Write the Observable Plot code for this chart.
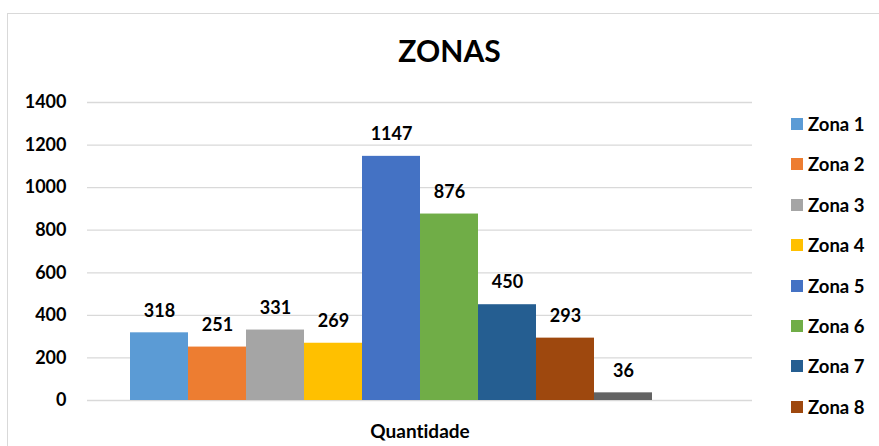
<!DOCTYPE html>
<html>
<head>
<meta charset="utf-8">
<script src="https://cdn.jsdelivr.net/npm/d3@7"></script>
<script src="https://cdn.jsdelivr.net/npm/@observablehq/plot@0.6"></script>
<style>
  html, body { margin: 0; padding: 0; background: #fff; }
  #wrap { position: relative; width: 879px; height: 446px; overflow: hidden; font-family: Lato, "Open Sans", sans-serif; font-variant-ligatures: none; }
  #wrap svg text { font-variant-ligatures: none; }
  #border { position: absolute; left: 7px; top: 13px; width: 2000px; height: 2000px; border-left: 1px solid #d9d9d9; border-top: 1px solid #d9d9d9; }
  #chart { position: absolute; left: 0; top: 0; }
  #legend { position: absolute; left: 0; top: 0; width: 879px; height: 432px; overflow: hidden; pointer-events: none; }
  .item { position: absolute; left: 791px; height: 20px; display: flex; align-items: center; font-weight: 700; font-size: 18.5px; color: #000; white-space: nowrap; }
  .sw { width: 12px; height: 12px; margin-right: 5px; flex: none; }
</style>
</head>
<body>
<div id="wrap">
  <div id="border"></div>
  <div id="chart"></div>
  <div id="legend"></div>
</div>
<script>
const title = "ZONAS";
const xLabel = "Quantidade";
const zonas = ["Zona 1", "Zona 2", "Zona 3", "Zona 4", "Zona 5", "Zona 6", "Zona 7", "Zona 8", "Zona 9"];
const valores = [318, 251, 331, 269, 1147, 876, 450, 293, 36];
const cores = ["#5B9BD5", "#ED7D31", "#A5A5A5", "#FFC000", "#4472C4", "#70AD47", "#255E91", "#9E480E", "#636363"];
const yTicks = [0, 200, 400, 600, 800, 1000, 1200, 1400];

const data = zonas.map((z, i) => ({zona: z, valor: valores[i]}));

const chart = Plot.plot({
  width: 879,
  height: 446,
  marginLeft: 87,
  marginRight: 127,
  marginTop: 102,
  marginBottom: 46,
  style: {fontFamily: "Lato, 'Open Sans', sans-serif", background: "transparent"},
  x: {type: "band", domain: zonas, range: [130, 652], padding: 0, axis: null},
  y: {domain: [0, 1400], ticks: yTicks, label: null},
  color: {domain: zonas, range: cores},
  marks: [
    Plot.gridY(yTicks, {stroke: "#d9d9d9", strokeOpacity: 1, strokeWidth: 1.3}),
    Plot.axisY(yTicks, {tickSize: 0, tickPadding: 21, fontSize: 18, fontWeight: 700, fill: "#000", label: null, tickFormat: d => String(d)}),
    Plot.barY(data, {x: "zona", y: "valor", fill: "zona", inset: 0}),
    Plot.text(data, {x: "zona", y: "valor", text: d => String(d.valor), dy: -22, fontSize: 18, fontWeight: 700, fill: "#000", lineAnchor: "middle"}),
    Plot.text([title], {frameAnchor: "top", dx: 29.5, dy: -50, fontSize: 30, fontWeight: 700, fill: "#000", lineAnchor: "middle"}),
    Plot.text([xLabel], {frameAnchor: "bottom", dy: 31, fontSize: 19, fontWeight: 700, fill: "#000", lineAnchor: "middle"})
  ]
});
document.getElementById("chart").appendChild(chart);

const legend = document.getElementById("legend");
const legendTop = 124, legendStep = 40.4, legendBottom = 432;
zonas.forEach((z, i) => {
  const cy = legendTop + i * legendStep;
  if (cy + 10 > legendBottom) return; // entries beyond the chart area are cut off, as in the original
  const item = document.createElement("div");
  item.className = "item";
  item.style.top = (cy - 10) + "px";
  const sw = document.createElement("span");
  sw.className = "sw";
  sw.style.background = cores[i];
  const t = document.createElement("span");
  t.textContent = z;
  item.appendChild(sw);
  item.appendChild(t);
  legend.appendChild(item);
});
</script>
</body>
</html>
